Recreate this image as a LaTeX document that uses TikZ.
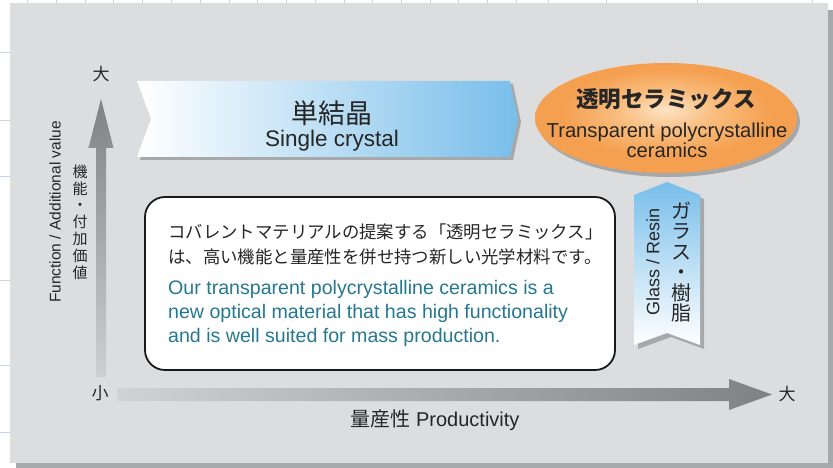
\documentclass[tikz,border=0pt]{standalone}
\usepackage{fontspec}
\setmainfont{Liberation Sans}
\newfontfamily\jpfont{Noto Sans CJK JP}
\usetikzlibrary{positioning}
\usetikzlibrary{shapes.geometric}
\definecolor{panelgray}{RGB}{220,221,223}
\definecolor{shadowgray}{RGB}{167,168,170}
\definecolor{gridblue}{RGB}{196,212,238}
\definecolor{skyblue}{RGB}{120,190,234}
\definecolor{axisgray}{RGB}{128,129,131}
\definecolor{tealtext}{RGB}{38,120,145}
\definecolor{peach}{RGB}{253,228,198}
\definecolor{ceramlight}{RGB}{249,190,128}
\definecolor{ceramorange}{RGB}{245,160,80}
\pgfdeclareradialshading{ceramshade}{\pgfpoint{0bp}{4bp}}{%
  color(0bp)=(peach); color(9bp)=(ceramlight);
  color(20bp)=(ceramorange); color(50bp)=(ceramorange)}

\begin{document}
\begin{tikzpicture}[%
  x=1pt, y=-1pt,
  txt/.style={inner sep=0pt, text=black!85},
  jp/.style={txt, font=\jpfont\fontsize{#1}{#1}\selectfont},
  en/.style={txt, font=\fontsize{#1}{#1}\selectfont},
]

  \useasboundingbox (0,0) rectangle (833,468);

  % sheet grid and panel
  \foreach \gx in {27,56,85,113,142,171,200,229,257,286,315,344,372,401,430,458,487,516,548,606,697,812}
    \draw[gridblue, line width=0.6pt] (\gx,0) -- (\gx,3);
  \foreach \gy in {52,120,176,280,365,432}
    \draw[gridblue, line width=0.6pt] (0,\gy) -- (10,\gy);
  \fill[shadowgray] (16,10) rectangle (833,468);
  \fill[panelgray] (10,3) rectangle (828,463);

  % axes
  \shade[top color=axisgray, middle color=axisgray!85!panelgray, bottom color=panelgray!85!axisgray]
    (96,377) -- (96,148) -- (88.5,148) -- (101,99) -- (113.5,148) -- (106,148) -- (106,377) -- cycle;
  \shade[left color=panelgray!88!axisgray, right color=axisgray]
    (117,388) -- (729,388) -- (729,379) -- (772,394.5) -- (729,410) -- (729,401) -- (117,401) -- cycle;

  \node[jp=17] (ybig) at (101,74) {大};
  \node[jp=17] (small) at (100,393) {小};
  \node[jp=17] (xbig) at (787,394) {大};
  \node[en=20] (xlabel) at (435,420) {{\jpfont 量産性} Productivity};
  \node[en=15.5, rotate=90] (ylabel) at (55,212) {Function / Additional value};
  \node[jp=15, font=\jpfont\fontsize{15}{16.8}\selectfont, align=center] (ylabeljp) at (80,222)
    {機\\能\\・\\付\\加\\価\\値};

  % single crystal banner
  \fill[shadowgray] (140,84) -- (513,84) -- (521,122) -- (513,160) -- (140,160) -- (154,122) -- cycle;
  \shade[left color=white, right color=skyblue]
    (137,81) -- (510,81) -- (518,119) -- (510,157) -- (137,157) -- (151,119) -- cycle;
  \node[jp=27] (crystaljp) at (332,113) {単結晶};
  \node[en=22.5] (crystalen) at (332,141) {Single crystal};

  % transparent ceramics
  \fill[shadowgray] (669,122) ellipse [x radius=131, y radius=55];
  \node[ellipse, minimum width=262pt, minimum height=110pt, shading=ceramshade, inner sep=0pt]
    (ceram) at (666,118) {};
  \node[jp=22.5, font=\jpfont\bfseries\fontsize{22.5}{22.5}\selectfont] (ceramjp) at (666,99) {透明セラミックス};
  \node[en=20.2, font=\fontsize{20.2}{20}\selectfont, align=center] (ceramen) at (667,140)
    {Transparent polycrystalline\\ceramics};

  % glass / resin arrow
  \fill[shadowgray] (638,199) -- (671,186) -- (704,199) -- (704,349) -- (671,337) -- (638,349) -- cycle;
  \shade[top color=skyblue, bottom color=white]
    (634,195) -- (667,182) -- (700,195) -- (700,345) -- (667,333) -- (634,345) -- cycle;
  \node[en=18, rotate=90] (glassen) at (653,262) {Glass / Resin};
  \node[jp=20, font=\jpfont\fontsize{20}{20.4}\selectfont, align=center] (glassjp) at (681,262)
    {ガ\\ラ\\ス\\・\\樹\\脂};

  % message box
  \node[draw=black!90, line width=1.8pt, rounded corners=20pt, fill=white,
    minimum width=470pt, minimum height=173pt] (msgbox) at (380,283.5) {};
  \node[jp=17.4, font=\jpfont\fontsize{17.4}{25}\selectfont, align=left, anchor=west] (msgjp) at (168,244.5)
    {コバレントマテリアルの提案する「透明セラミックス」\\は、高い機能と量産性を併せ持つ新しい光学材料です。};
  \node[en=19.6, font=\fontsize{19.6}{24}\selectfont, text=tealtext, align=left, anchor=west] (msgen) at (168,313)
    {Our transparent polycrystalline ceramics is a\\new optical material that has high functionality\\and is well suited for mass production.};

\end{tikzpicture}
\end{document}
